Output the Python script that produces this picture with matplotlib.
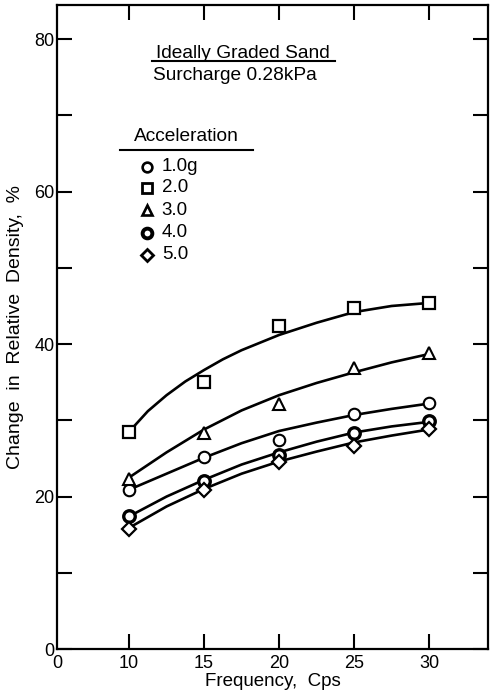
import matplotlib
matplotlib.use('Agg')
import matplotlib.pyplot as plt
import numpy as np

plt.rcParams['font.family'] = ['Liberation Sans', 'DejaVu Sans']

# measured points (Frequency, Cps)
freq = [10, 15, 20, 25, 30]
acc_labels = ['1.0g', '2.0', '3.0', '4.0', '5.0']
dr_10 = [20.8, 25.2, 27.4, 30.8, 32.3]
dr_20 = [28.5, 35.0, 42.4, 44.7, 45.4]
dr_30 = [22.3, 28.4, 32.1, 36.9, 38.8]
dr_40 = [17.4, 22.0, 25.5, 28.4, 29.9]
dr_50 = [15.7, 20.9, 24.5, 26.6, 28.9]

# hand-drawn trend curves
curve_x = [10, 12.5, 15, 17.5, 20, 22.5, 25, 27.5, 30]
curve_10 = [20.9, 23.0, 25.1, 27.0, 28.6, 29.7, 30.7, 31.5, 32.2]
curve_30 = [22.5, 25.8, 28.8, 31.3, 33.3, 34.9, 36.3, 37.6, 38.7]
curve_40 = [17.4, 20.0, 22.2, 24.2, 25.8, 27.2, 28.4, 29.2, 29.8]
curve_50 = [15.9, 18.7, 21.0, 23.0, 24.6, 25.9, 27.1, 28.0, 28.8]
curve_20_x = [10, 11.25, 12.5, 13.75, 15, 16.25, 17.5, 20, 22.5, 25, 27.5, 30]
curve_20 = [28.5, 31.2, 33.3, 35.1, 36.6, 38.0, 39.2, 41.2, 42.8, 44.2, 45.0, 45.4]

series = [
    (dr_10, curve_x, curve_10, 'o', 1.5),
    (dr_20, curve_20_x, curve_20, 's', 1.6),
    (dr_30, curve_x, curve_30, '^', 1.5),
    (dr_40, curve_x, curve_40, 'o', 2.4),
    (dr_50, curve_x, curve_50, 'D', 1.6),
]

fig = plt.figure(figsize=(4.92, 6.96), dpi=100)
ax = fig.add_axes([0.116, 0.0675, 0.876, 0.9255])

for pts, cx, cur, mk, mew in series:
    ax.plot(cx, cur, color='black', lw=1.9, zorder=2)
    ms = 7.0 if mk == 'D' else 8.3
    ax.plot(freq, pts, linestyle='none', marker=mk, ms=ms, mfc='white',
            mec='black', mew=mew, zorder=3)

x0 = 5.2
ax.set_xlim(x0, 33.93)
ax.set_ylim(0, 84.5)
ax.set_xticks([x0, 10, 15, 20, 25, 30])
ax.set_xticklabels(['0', '10', '15', '20', '25', '30'])
ax.set_yticks([0, 20, 40, 60, 80])
ax.set_yticks([10, 30, 50, 70], minor=True)
ax.tick_params(which='both', direction='in', top=True, right=True,
               length=11, width=1.5, labelsize=13)
ax.tick_params(axis='y', pad=2)
ax.tick_params(axis='x', pad=4)
t0 = ax.xaxis.get_major_ticks()[0]
t0.tick1line.set_visible(False)
t0.tick2line.set_visible(False)
for sp in ax.spines.values():
    sp.set_linewidth(1.6)

ax.set_xlabel('Frequency,  Cps', fontsize=13.5, labelpad=1)
ax.set_ylabel('Change  in  Relative  Density,  %', fontsize=14, labelpad=7)

# title block
ax.text(0.4316, 0.918, 'Ideally Graded Sand', transform=ax.transAxes,
        ha='center', va='baseline', fontsize=13.8)
ax.plot([0.2204, 0.645], [0.913, 0.913], transform=ax.transAxes,
        color='black', lw=1.5)
ax.text(0.2227, 0.8835, 'Surcharge 0.28kPa', transform=ax.transAxes,
        ha='left', va='baseline', fontsize=13.8)

# legend block
ax.text(0.3, 0.788, 'Acceleration', transform=ax.transAxes,
        ha='center', va='baseline', fontsize=13.8)
ax.plot([0.146, 0.455], [0.775, 0.775], transform=ax.transAxes,
        color='black', lw=1.5)
row_y = [0.749, 0.716, 0.681, 0.646, 0.612]
for (pts, cx, cur, mk, mew), lab, yy in zip(series, acc_labels, row_y):
    ms = 6.0 if mk == 'D' else 7.0
    ax.plot([0.208], [yy], transform=ax.transAxes, marker=mk, ms=ms,
            mfc='white', mec='black', mew=mew + 0.4)
    ax.text(0.243, yy, lab, transform=ax.transAxes, ha='left',
            va='center', fontsize=13.5)

fig.savefig('out.png', dpi=100)
